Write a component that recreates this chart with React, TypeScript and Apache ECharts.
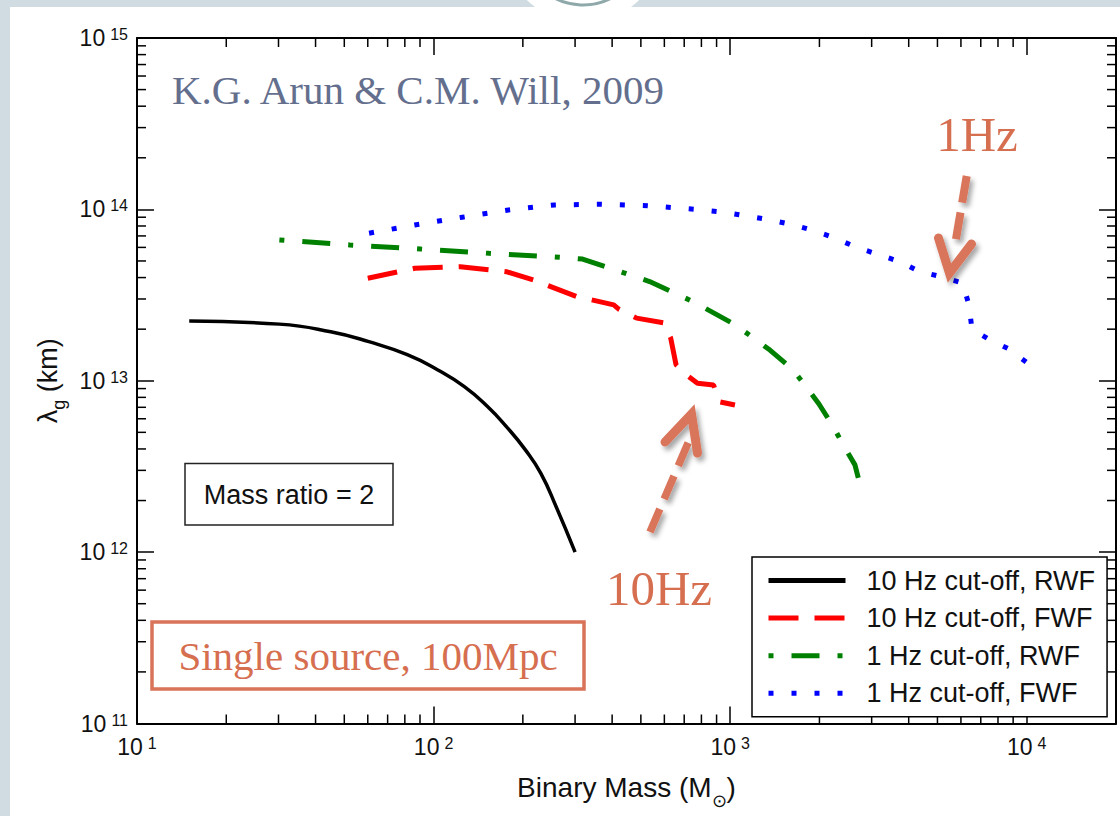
import React, { useEffect, useRef } from 'react';
import * as echarts from 'echarts';

// ---------- data ----------
const SERIES_NAMES = [
  '10 Hz cut-off, RWF',
  '10 Hz cut-off, FWF',
  '1 Hz cut-off, RWF',
  '1 Hz cut-off, FWF',
];

const rwf10Mass = [15, 30.2, 45, 60.5, 81.5, 103, 127, 152, 176, 204, 230, 259, 300];
const rwf10Lambda = [2.23e13, 2.14e13, 1.93e13, 1.69e13, 1.42e13, 1.16e13, 9.24e12, 7.07e12, 5.4e12, 3.95e12, 2.88e12, 1.84e12, 1.0e12];

const fwf10Mass = [60, 86.4, 123, 176, 217, 304, 405, 422, 484, 596, 630, 657, 724, 776, 879, 917, 1038];
const fwf10Lambda = [3.96e13, 4.53e13, 4.63e13, 4.33e13, 3.87e13, 3.1e13, 2.77e13, 2.61e13, 2.32e13, 2.18e13, 1.78e13, 1.24e13, 1.06e13, 9.67e12, 9.45e12, 7.55e12, 7.22e12];

const rwf1Mass = [30.2, 52.2, 90.3, 154, 266, 318, 386, 535, 751, 1041, 1362, 1628, 1801, 1993, 2227, 2406, 2635, 2704];
const rwf1Lambda = [6.63e13, 6.2e13, 5.87e13, 5.54e13, 5.25e13, 5.13e13, 4.59e13, 3.79e13, 2.89e13, 2.12e13, 1.51e13, 1.16e13, 9.24e12, 7.32e12, 5.4e12, 4.22e12, 3.23e12, 2.71e12];

const fwf1Mass = [60.6, 86.4, 125, 179, 255, 369, 527, 763, 924, 1310, 1582, 1883, 2239, 2649, 3143, 3737, 4364, 5137, 6081, 6386, 6537, 7616, 8730, 10000];
const fwf1Lambda = [7.26e13, 8.11e13, 9.0e13, 9.92e13, 1.061e14, 1.071e14, 1.051e14, 1.001e14, 9.69e13, 8.79e13, 8.22e13, 7.58e13, 6.84e13, 6.03e13, 5.47e13, 4.95e13, 4.33e13, 4.05e13, 3.71e13, 2.77e13, 2.0e13, 1.71e13, 1.53e13, 1.28e13];

// axis ranges and tick labels
const X_MIN = 10;
const X_MAX = 20000;
const Y_MIN = 1e11;
const Y_MAX = 1e15;
const xLabelExponents = [1, 2, 3, 4];
const yLabelExponents = [11, 12, 13, 14, 15];
const xMinorTicks = [
  20, 30, 40, 50, 60, 70, 80, 90,
  200, 300, 400, 500, 600, 700, 800, 900,
  2000, 3000, 4000, 5000, 6000, 7000, 8000, 9000,
];
const yMinorTicks = [
  2e11, 3e11, 4e11, 5e11, 6e11, 7e11, 8e11, 9e11,
  2e12, 3e12, 4e12, 5e12, 6e12, 7e12, 8e12, 9e12,
  2e13, 3e13, 4e13, 5e13, 6e13, 7e13, 8e13, 9e13,
  2e14, 3e14, 4e14, 5e14, 6e14, 7e14, 8e14, 9e14,
];

// annotation texts
const AUTHOR_TEXT = 'K.G. Arun & C.M. Will, 2009';
const MASS_RATIO_TEXT = 'Mass ratio = 2';
const SOURCE_TEXT = 'Single source, 100Mpc';
const HZ1_TEXT = '1Hz';
const HZ10_TEXT = '10Hz';

// ---------- styling ----------
const SANS = '"Liberation Sans", Arial, Helvetica, sans-serif';
const SERIF = '"Liberation Serif", "Times New Roman", serif';
const SALMON = '#d9745a';
const SALMON_TEXT = '#d66e50';
const AUTHOR_COLOR = '#646f8e';

const zip = (xs: number[], ys: number[]) => xs.map((x, i) => [x, ys[i]]);

const expFormatter = (allowed: number[]) => (v: number) => {
  const l = Math.log10(v);
  const e = Math.round(l);
  if (Math.abs(l - e) > 1e-6 || allowed.indexOf(e) < 0) return '';
  return `{base|10}{sup|${e}}`;
};

const makeTickRich = () => ({
  base: { fontSize: 23, lineHeight: 23, fontFamily: SANS, color: '#111', verticalAlign: 'bottom' },
  sup: { fontSize: 16, lineHeight: 16, fontFamily: SANS, color: '#111', verticalAlign: 'top', padding: [0, 0, 16, 5] },
});

const axisBase = {
  type: 'log',
  logBase: 10,
  splitLine: { show: false },
  axisLine: { show: true, onZero: false, lineStyle: { color: '#000', width: 2 } },
  axisTick: { show: true, inside: true, length: 17, lineStyle: { color: '#000', width: 1.5 } },
};

const shadow = { shadowBlur: 5, shadowOffsetX: 3, shadowOffsetY: 4, shadowColor: 'rgba(0,0,0,0.35)' };

function buildOption() {
  return {
    animation: false,
    backgroundColor: '#d0dce1',
    grid: { left: 137, right: 4, top: 38, bottom: 92.5, containLabel: false },
    xAxis: [
      {
        ...axisBase,
        min: X_MIN,
        max: X_MAX,
        position: 'bottom',
        axisLabel: {
          margin: 12,
          fontSize: 23,
          fontFamily: SANS,
          color: '#111',
          formatter: expFormatter(xLabelExponents),
          rich: makeTickRich(),
          showMinLabel: true,
          showMaxLabel: true,
          hideOverlap: false,
        },
        name: '{nm|Binary Mass (M}{sb|\u2299}{nm|)}',
        nameLocation: 'middle',
        nameGap: 50,
        nameTextStyle: {
          fontSize: 28,
          fontFamily: SANS,
          color: '#111',
          rich: {
            nm: { fontSize: 28, lineHeight: 28, fontFamily: SANS, color: '#111', verticalAlign: 'top' },
            sb: { fontSize: 18, lineHeight: 18, fontFamily: SANS, color: '#111', verticalAlign: 'top', padding: [18, 0, 0, 0] },
          },
        },
      },
      {
        ...axisBase,
        min: X_MIN,
        max: X_MAX,
        position: 'top',
        axisLabel: { show: false },
      },
    ],
    yAxis: [
      {
        ...axisBase,
        min: Y_MIN,
        max: Y_MAX,
        position: 'left',
        axisLabel: {
          margin: 9,
          fontSize: 23,
          fontFamily: SANS,
          color: '#111',
          formatter: expFormatter(yLabelExponents),
          rich: makeTickRich(),
          showMinLabel: true,
          showMaxLabel: true,
          hideOverlap: false,
        },
        name: '{nm|\u03bb}{sb|g}{nm| (km)}',
        nameLocation: 'middle',
        nameRotate: 90,
        nameGap: 76,
        nameTextStyle: {
          fontSize: 27,
          fontFamily: SANS,
          color: '#111',
          rich: {
            nm: { fontSize: 27, lineHeight: 27, fontFamily: SANS, color: '#111', verticalAlign: 'top' },
            sb: { fontSize: 18, lineHeight: 18, fontFamily: SANS, color: '#111', verticalAlign: 'top', padding: [16, 0, 0, 0] },
          },
        },
      },
      {
        ...axisBase,
        min: Y_MIN,
        max: Y_MAX,
        position: 'right',
        axisLabel: { show: false },
      },
    ],
    legend: {
      orient: 'vertical',
      left: 752,
      top: 557,
      padding: [10, 12, 10, 14],
      itemWidth: 77,
      itemHeight: 24,
      itemGap: 10.6,
      backgroundColor: '#fff',
      borderColor: '#000',
      borderWidth: 1.5,
      borderRadius: 0,
      selectedMode: false,
      textStyle: { fontFamily: SANS, fontSize: 27, lineHeight: 24, color: '#111', padding: [0, 0, 0, 16] },
      lineStyle: { width: 5 },
      itemStyle: { color: 'rgba(0,0,0,0)', borderWidth: 0, opacity: 0 },
      data: SERIES_NAMES,
      z: 6,
    },
    series: [
      {
        type: 'line',
        name: SERIES_NAMES[0],
        data: zip(rwf10Mass, rwf10Lambda),
        symbol: 'none',
        smooth: 0.5,
        lineStyle: { color: '#000', width: 3.5, type: 'solid' },
        itemStyle: { color: '#000' },
        z: 3,
      },
      {
        type: 'line',
        name: SERIES_NAMES[1],
        data: zip(fwf10Mass, fwf10Lambda),
        symbol: 'none',
        lineStyle: { color: '#ff0000', width: 5, type: [30, 16], cap: 'butt' },
        itemStyle: { color: '#ff0000' },
        z: 3,
      },
      {
        type: 'line',
        name: SERIES_NAMES[2],
        data: zip(rwf1Mass, rwf1Lambda),
        symbol: 'none',
        lineStyle: { color: '#008000', width: 5, type: [5, 18, 28, 18], cap: 'butt' },
        itemStyle: { color: '#008000' },
        z: 3,
      },
      {
        type: 'line',
        name: SERIES_NAMES[3],
        data: zip(fwf1Mass, fwf1Lambda),
        symbol: 'none',
        lineStyle: { color: '#0000ff', width: 5, type: [5, 18], cap: 'butt' },
        itemStyle: { color: '#0000ff' },
        z: 3,
      },
      {
        type: 'custom',
        name: 'x minor ticks',
        silent: true,
        clip: false,
        data: xMinorTicks.map((v) => [v, Y_MIN]),
        renderItem: (params: any, api: any) => {
          const cs = params.coordSys;
          const x = api.coord([api.value(0), Y_MIN])[0];
          const style = { stroke: '#000', lineWidth: 1.5 };
          const bottom = cs.y + cs.height;
          return {
            type: 'group',
            children: [
              { type: 'line', shape: { x1: x, y1: bottom, x2: x, y2: bottom - 9 }, style },
              { type: 'line', shape: { x1: x, y1: cs.y, x2: x, y2: cs.y + 9 }, style },
            ],
          };
        },
        z: 4,
      },
      {
        type: 'custom',
        name: 'y minor ticks',
        silent: true,
        clip: false,
        data: yMinorTicks.map((v) => [X_MIN, v]),
        renderItem: (params: any, api: any) => {
          const cs = params.coordSys;
          const y = api.coord([X_MIN, api.value(1)])[1];
          const style = { stroke: '#000', lineWidth: 1.5 };
          const right = cs.x + cs.width;
          return {
            type: 'group',
            children: [
              { type: 'line', shape: { x1: cs.x, y1: y, x2: cs.x + 9, y2: y }, style },
              { type: 'line', shape: { x1: right, y1: y, x2: right - 9, y2: y }, style },
            ],
          };
        },
        z: 4,
      },
    ],
    graphic: [
      { type: 'rect', z: -10, silent: true, shape: { x: 10, y: 7, width: 1110, height: 809 }, style: { fill: '#fff' } },
      { type: 'circle', z: -10, silent: true, shape: { cx: 583, cy: -57, r: 80 }, style: { fill: '#fff' } },
      { type: 'circle', z: -9, silent: true, shape: { cx: 583, cy: -57, r: 62 }, style: { fill: 'none', stroke: '#8fa9aa', lineWidth: 3 } },

      {
        type: 'text', z: 10, silent: true, x: 172, y: 90,
        style: { text: AUTHOR_TEXT, fontFamily: SERIF, fontSize: 41, fill: AUTHOR_COLOR, align: 'left', verticalAlign: 'middle' },
      },

      {
        type: 'rect', z: 10, silent: true,
        shape: { x: 185, y: 463.5, width: 208, height: 61.5 },
        style: { fill: '#fff', stroke: '#222', lineWidth: 1.5 },
      },
      {
        type: 'text', z: 11, silent: true, x: 289, y: 494.5,
        style: { text: MASS_RATIO_TEXT, fontFamily: SANS, fontSize: 27, fill: '#111', align: 'center', verticalAlign: 'middle' },
      },

      {
        type: 'rect', z: 10, silent: true,
        shape: { x: 152, y: 622, width: 432, height: 67 },
        style: { fill: '#fff', stroke: SALMON, lineWidth: 3.5 },
      },
      {
        type: 'text', z: 11, silent: true, x: 368, y: 656,
        style: { text: SOURCE_TEXT, fontFamily: SERIF, fontSize: 41, fill: SALMON_TEXT, align: 'center', verticalAlign: 'middle' },
      },

      {
        type: 'text', z: 11, silent: true, x: 977, y: 134,
        style: { text: HZ1_TEXT, fontFamily: SERIF, fontSize: 49, fill: SALMON_TEXT, align: 'center', verticalAlign: 'middle' },
      },
      {
        type: 'polyline', z: 11, silent: true,
        shape: { points: [[966.7, 176], [955.5, 242]] },
        style: { stroke: SALMON, lineWidth: 8, lineDash: [27, 10], lineCap: 'butt', fill: 'none', ...shadow },
      },
      {
        type: 'polyline', z: 11, silent: true,
        shape: { points: [[938.5, 238], [949.5, 273], [971.5, 244]] },
        style: { stroke: SALMON, lineWidth: 9, lineCap: 'round', lineJoin: 'miter', fill: 'none', ...shadow },
      },

      {
        type: 'text', z: 11, silent: true, x: 659, y: 588,
        style: { text: HZ10_TEXT, fontFamily: SERIF, fontSize: 49, fill: SALMON_TEXT, align: 'center', verticalAlign: 'middle' },
      },
      {
        type: 'polyline', z: 11, silent: true,
        shape: { points: [[650, 532], [688.5, 442]] },
        style: { stroke: SALMON, lineWidth: 7.5, lineDash: [25, 11], lineCap: 'butt', fill: 'none', ...shadow },
      },
      {
        type: 'polyline', z: 11, silent: true,
        shape: { points: [[665, 442], [691.5, 414], [697.5, 453]] },
        style: { stroke: SALMON, lineWidth: 9, lineCap: 'round', lineJoin: 'miter', fill: 'none', ...shadow },
      },
    ],
  };
}

export default function App() {
  const ref = useRef<HTMLDivElement>(null);
  useEffect(() => {
    if (!ref.current) return;
    const chart = echarts.init(ref.current, null, { renderer: 'svg' });
    chart.setOption(buildOption() as any);
    return () => {
      chart.dispose();
    };
  }, []);
  return (
    <div
      ref={ref}
      style={{ position: 'fixed', left: 0, top: 0, width: 1120, height: 816 }}
    />
  );
}
